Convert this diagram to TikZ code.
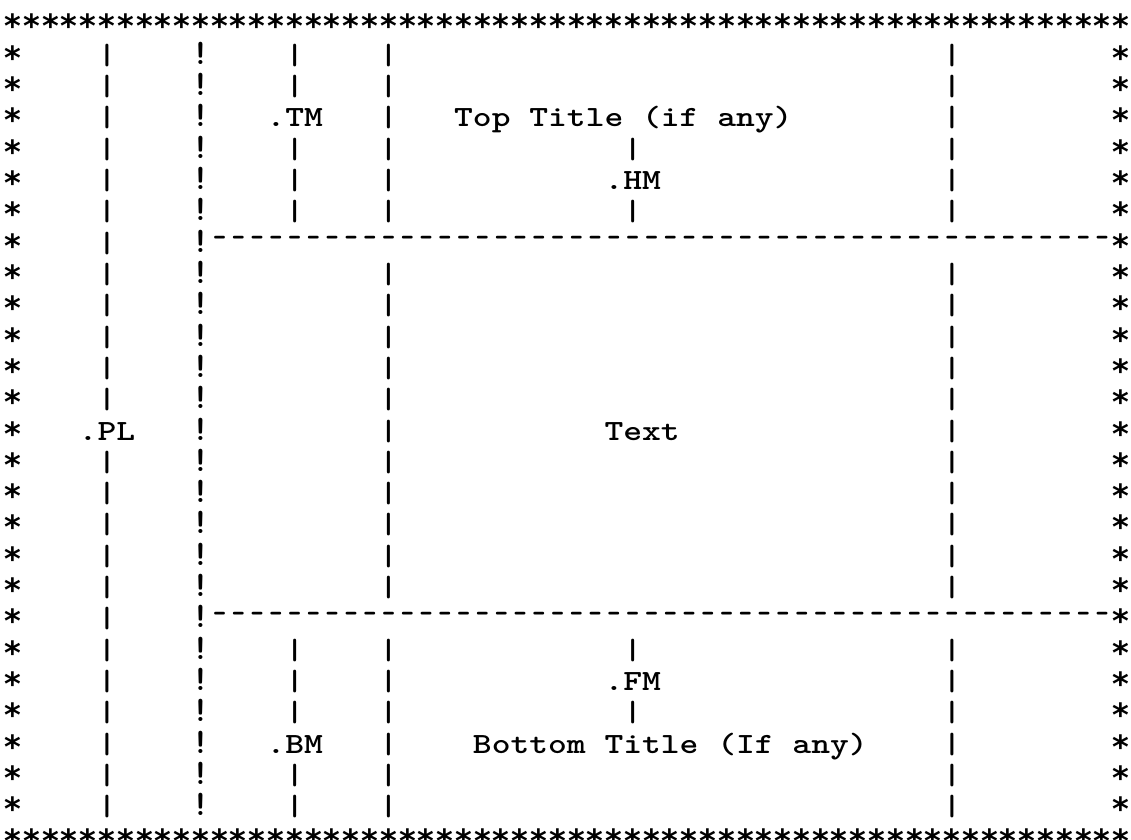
\documentclass[tikz,border=0pt]{standalone}
\usepackage{fontspec}
\usepackage{graphicx}
\newfontfamily\astfont{DejaVu Sans}
% typewriter face on a 9.39pt character pitch
\newcommand\tw{\ttfamily\bfseries\fontsize{17.9pt}{18pt}\selectfont}
\newcommand\sq[1]{\scalebox{1}[0.82]{#1}}
\tikzset{
  glyph/.style={inner sep=0pt, outer sep=0pt, font=\tw, anchor=base},
  star/.style={inner sep=0pt, outer sep=0pt, anchor=base,
               font=\astfont\bfseries\fontsize{16pt}{16pt}\selectfont},
}
% character grid: column centre and row baseline (units of 0.5pt)
\newcommand\cx[1]{13+18.78*(#1)}
\newcommand\ry[1]{33+31.31*(#1)}
\newcommand\sy[1]{38+31.31*(#1)}
\begin{document}
\begin{tikzpicture}[x=0.5pt,y=-0.5pt]
\useasboundingbox (0,0) rectangle (1131,840);

% frame of asterisks
\foreach \c in {0,...,59} {
  \node[star] (top-\c) at ({\cx{\c}},{\sy{0}}) {*};
  \node[star] (bot-\c) at ({\cx{\c}},{\sy{26}}) {*};
}
\foreach \r in {1,...,25} {
  \node[star] (left-\r)  at ({\cx{0}},{\sy{\r}}) {*};
  \node[star] (right-\r) at ({\cx{59}},{\sy{\r}}) {*};
  \node[glyph] (bang-\r) at ({\cx{10}},{\ry{\r}}) {!};
}

% page-length column
\foreach \r in {1,2,3,4,5,6,7,8,9,10,11,12,14,15,16,17,18,19,20,21,22,23,24,25}
  \node[glyph] (pl-\r) at ({\cx{5}},{\ry{\r}}) {\sq{|}};
% top and bottom margin columns
\foreach \r in {1,2,4,5,6,20,21,22,24,25}
  \node[glyph] (tb-\r) at ({\cx{15}},{\ry{\r}}) {\sq{|}};
% text column edges
\foreach \r in {1,2,3,4,5,6,8,9,10,11,12,13,14,15,16,17,18,20,21,22,23,24,25} {
  \node[glyph] (lm-\r) at ({\cx{20}},{\ry{\r}}) {\sq{|}};
  \node[glyph] (rm-\r) at ({\cx{50}},{\ry{\r}}) {\sq{|}};
}
% header and footer margin columns
\foreach \r in {4,6,20,22}
  \node[glyph] (hf-\r) at ({\cx{33}},{\ry{\r}}) {\sq{|}};

% dashed rules
\foreach \r in {7,19}
  \foreach \c in {11,...,58}
    \node[glyph] (dash-\r-\c) at ({\cx{\c}},{\ry{\r}}) {\raisebox{2.4pt}{\scalebox{0.72}[0.9]{-}}};

% labels
\node[glyph] (tm) at ({\cx{15}},{\ry{3}}) {\sq{.TM}};
\node[glyph] (toptitle) at ({\cx{32.5}},{\ry{3}}) {\sq{Top Title (if any)}};
\node[glyph] (hm) at ({\cx{33}},{\ry{5}}) {\sq{.HM}};
\node[glyph] (pl) at ({\cx{5}},{\ry{13}}) {\sq{.PL}};
\node[glyph] (txt) at ({\cx{33.5}},{\ry{13}}) {\sq{Text}};
\node[glyph] (fm) at ({\cx{33}},{\ry{21}}) {\sq{.FM}};
\node[glyph] (bm) at ({\cx{15}},{\ry{23}}) {\sq{.BM}};
\node[glyph] (bottitle) at ({\cx{35}},{\ry{23}}) {\sq{Bottom Title (If any)}};
\end{tikzpicture}
\end{document}
